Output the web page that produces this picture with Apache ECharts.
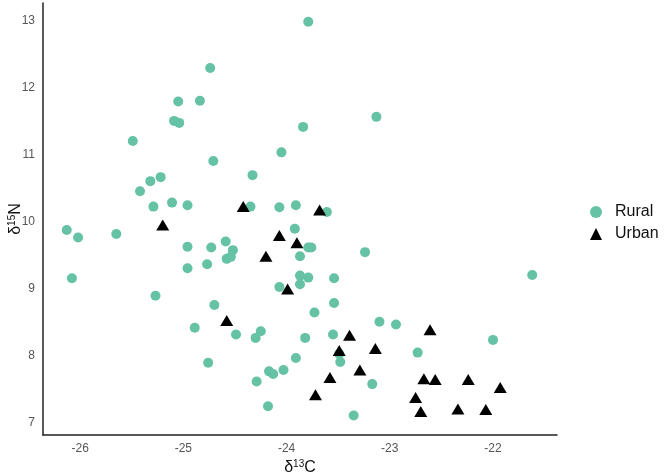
<!DOCTYPE html>
<html>
<head>
<meta charset="utf-8">
<script src="https://cdn.jsdelivr.net/npm/echarts@6/dist/echarts.min.js"></script>
<style>html,body{margin:0;padding:0;background:#fff;}#c{width:664px;height:475px;}</style>
</head>
<body>
<div id="c"></div>
<script>
const seriesNames = ['Rural', 'Urban'];
const ruralX = [-23.79,-24.74,-25.05,-24.84,-25.09,-25.04,-25.49,-24.71,-24.05,-24.33,-25.22,-25.32,-25.42,-25.29,-25.11,-24.96,-24.35,-24.07,-23.91,-23.13,-23.84,-23.61,-23.92,-23.79,-23.76,-24.96,-24.73,-24.59,-24.52,-24.58,-24.54,-24.96,-24.77,-23.87,-25.27,-23.87,-23.79,-23.54,-23.87,-24.07,-26.13,-26.02,-25.65,-26.08,-24.70,-24.89,-24.49,-24.30,-24.25,-24.76,-24.17,-24.13,-24.03,-24.29,-24.18,-23.91,-23.82,-23.73,-23.54,-23.55,-23.49,-23.48,-23.17,-23.35,-23.10,-23.24,-21.62,-22.94,-22.00,-22.73];
const ruralY = [12.99,12.30,11.80,11.81,11.51,11.48,11.21,10.91,11.04,10.70,10.67,10.61,10.46,10.23,10.29,10.25,10.23,10.22,10.25,11.57,11.42,10.15,9.90,9.62,9.62,9.63,9.62,9.71,9.58,9.45,9.48,9.31,9.37,9.49,8.90,9.20,9.17,9.16,9.07,9.03,9.88,9.77,9.82,9.16,8.76,8.42,8.32,8.27,8.37,7.90,7.77,7.73,7.79,7.62,7.25,7.97,8.27,8.65,8.79,8.32,8.03,7.91,7.58,7.11,8.51,9.55,9.21,8.47,8.24,8.05];
const urbanX = [-25.20,-24.42,-23.68,-24.07,-23.90,-24.20,-23.99,-24.58,-23.49,-23.39,-23.14,-23.29,-23.58,-23.72,-22.61,-22.67,-22.56,-22.24,-21.93,-22.75,-22.70,-22.34,-22.07];
const urbanY = [9.955,10.23,10.18,9.80,9.69,9.49,9.00,8.53,8.08,8.31,8.11,7.79,7.68,7.42,8.39,7.66,7.65,7.65,7.53,7.38,7.17,7.21,7.20];
const xTicks = [-26, -25, -24, -23, -22];
const yTicks = [7, 8, 9, 10, 11, 12, 13];

const pair = (xs, ys) => xs.map((x, i) => [x, ys[i]]);
const FONT = '"Liberation Sans", Arial, sans-serif';
const chart = echarts.init(document.getElementById('c'), null, {renderer: 'canvas'});
chart.setOption({
  animation: false,
  backgroundColor: '#ffffff',
  grid: {left: 43, right: 107, top: 3, bottom: 40, containLabel: false, outerBoundsMode: 'none'},
  legend: {
    orient: 'vertical', left: 585, top: 199, itemGap: 6,
    itemWidth: 12, itemHeight: 12,
    textStyle: {fontSize: 16, color: '#111', fontFamily: FONT, padding: [0, 0, 0, 8], lineHeight: 16},
    data: [{name: seriesNames[0], icon: 'circle'}, {name: seriesNames[1], icon: 'triangle'}]
  },
  xAxis: {
    type: 'value', min: -26.36, max: -21.38,
    name: '{a|δ}{s|13}{a|C}', nameLocation: 'middle', nameGap: 24, nameMoveOverlap: false,
    nameTextStyle: {rich: {
      a: {fontSize: 16, fontFamily: FONT, color: '#111'},
      s: {fontSize: 10, fontFamily: FONT, color: '#111', padding: [0, 0, 7, 0]}
    }},
    axisLine: {show: true, onZero: false, lineStyle: {color: '#222', width: 1.5}},
    axisTick: {show: false},
    splitLine: {show: false},
    axisLabel: {customValues: xTicks, fontSize: 12, color: '#555', fontFamily: FONT, margin: 8}
  },
  yAxis: {
    type: 'value', min: 6.82, max: 13.27,
    name: '{a|δ}{s|15}{a|N}', nameLocation: 'middle', nameGap: 19, nameRotate: 90, nameMoveOverlap: false,
    nameTextStyle: {rich: {
      a: {fontSize: 16, fontFamily: FONT, color: '#111'},
      s: {fontSize: 10, fontFamily: FONT, color: '#111', padding: [0, 0, 7, 0]}
    }},
    axisLine: {show: true, onZero: false, lineStyle: {color: '#222', width: 1.5}},
    axisTick: {show: false},
    splitLine: {show: false},
    axisLabel: {customValues: yTicks, fontSize: 12, color: '#555', fontFamily: FONT, margin: 8}
  },
  series: [
    {name: seriesNames[0], type: 'scatter', symbol: 'circle', symbolSize: 10,
     itemStyle: {color: '#66C2A5', opacity: 1}, data: pair(ruralX, ruralY)},
    {name: seriesNames[1], type: 'scatter', symbol: 'triangle', symbolSize: [13, 11],
     itemStyle: {color: '#000000', opacity: 1}, data: pair(urbanX, urbanY)}
  ]
});
</script>
</body>
</html>
